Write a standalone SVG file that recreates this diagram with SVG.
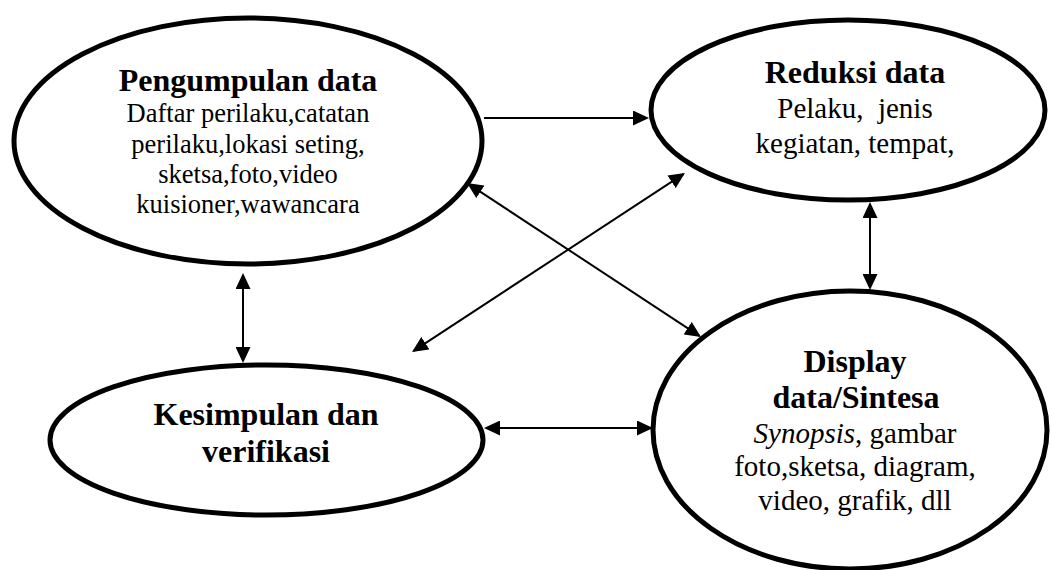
<svg xmlns="http://www.w3.org/2000/svg" width="1052" height="570" viewBox="0 0 1052 570">
  <style>
    .node { fill: #ffffff; stroke: #000000; stroke-width: 5; }
    .title { font-family: "Liberation Serif", "Times New Roman", serif; font-weight: bold; font-size: 32px; fill: #000000; text-anchor: middle; }
    .body { font-family: "Liberation Serif", "Times New Roman", serif; font-size: 29px; fill: #000000; text-anchor: middle; }
    .small { font-size: 26.5px; }
    .link { stroke: #000000; stroke-width: 2; fill: none; }
  </style>
  <defs>
    <marker id="arrow" markerUnits="userSpaceOnUse" markerWidth="16" markerHeight="15" refX="14" refY="7.5" orient="auto-start-reverse" viewBox="0 0 16 15">
      <path d="M0,0 L16,7.5 L0,15 Z" fill="#000000"/>
    </marker>
  </defs>

  <rect x="0" y="0" width="1052" height="570" fill="#ffffff"/>

  <!-- data collection -->
  <g id="pengumpulan">
    <ellipse class="node" cx="248" cy="141" rx="234" ry="123"/>
    <text class="title" x="248" y="91">Pengumpulan data</text>
    <text class="body small" x="248" y="122">Daftar perilaku,catatan</text>
    <text class="body small" x="248" y="152.5">perilaku,lokasi seting,</text>
    <text class="body small" x="248" y="183">sketsa,foto,video</text>
    <text class="body small" x="248" y="213">kuisioner,wawancara</text>
  </g>

  <!-- data reduction -->
  <g id="reduksi">
    <ellipse class="node" cx="848" cy="110" rx="197" ry="90"/>
    <text class="title" x="855" y="83">Reduksi data</text>
    <text class="body" x="855" y="118" style="white-space:pre">Pelaku,  jenis</text>
    <text class="body" x="855" y="153">kegiatan, tempat,</text>
  </g>

  <!-- conclusion and verification -->
  <g id="kesimpulan">
    <ellipse class="node" cx="266.5" cy="440" rx="216.5" ry="75"/>
    <text class="title" x="266" y="425">Kesimpulan dan</text>
    <text class="title" x="266" y="462">verifikasi</text>
  </g>

  <!-- data display / synthesis -->
  <g id="display">
    <ellipse class="node" cx="850" cy="430" rx="197" ry="139"/>
    <text class="title" x="855" y="372">Display</text>
    <text class="title" x="856" y="408">data/Sintesa</text>
    <text class="body" x="855" y="443"><tspan font-style="italic">Synopsis</tspan>, gambar</text>
    <text class="body" x="855" y="476">foto,sketsa, diagram,</text>
    <text class="body" x="855" y="510">video, grafik, dll</text>
  </g>

  <!-- connectors -->
  <g id="connectors">
    <line class="link" x1="484" y1="118" x2="647" y2="118" stroke-width="1.6" marker-end="url(#arrow)"/>
    <line class="link" x1="468.7" y1="184.1" x2="699.3" y2="335.9" marker-start="url(#arrow)" marker-end="url(#arrow)"/>
    <line class="link" x1="683.3" y1="174.1" x2="413.7" y2="350.9" marker-start="url(#arrow)" marker-end="url(#arrow)"/>
    <line class="link" x1="243" y1="275" x2="243" y2="361" stroke-width="2.4" marker-start="url(#arrow)" marker-end="url(#arrow)"/>
    <line class="link" x1="870" y1="204" x2="870" y2="288" stroke-width="2.4" marker-start="url(#arrow)" marker-end="url(#arrow)"/>
    <line class="link" x1="486" y1="428" x2="651" y2="428" marker-start="url(#arrow)" marker-end="url(#arrow)"/>
  </g>
</svg>
